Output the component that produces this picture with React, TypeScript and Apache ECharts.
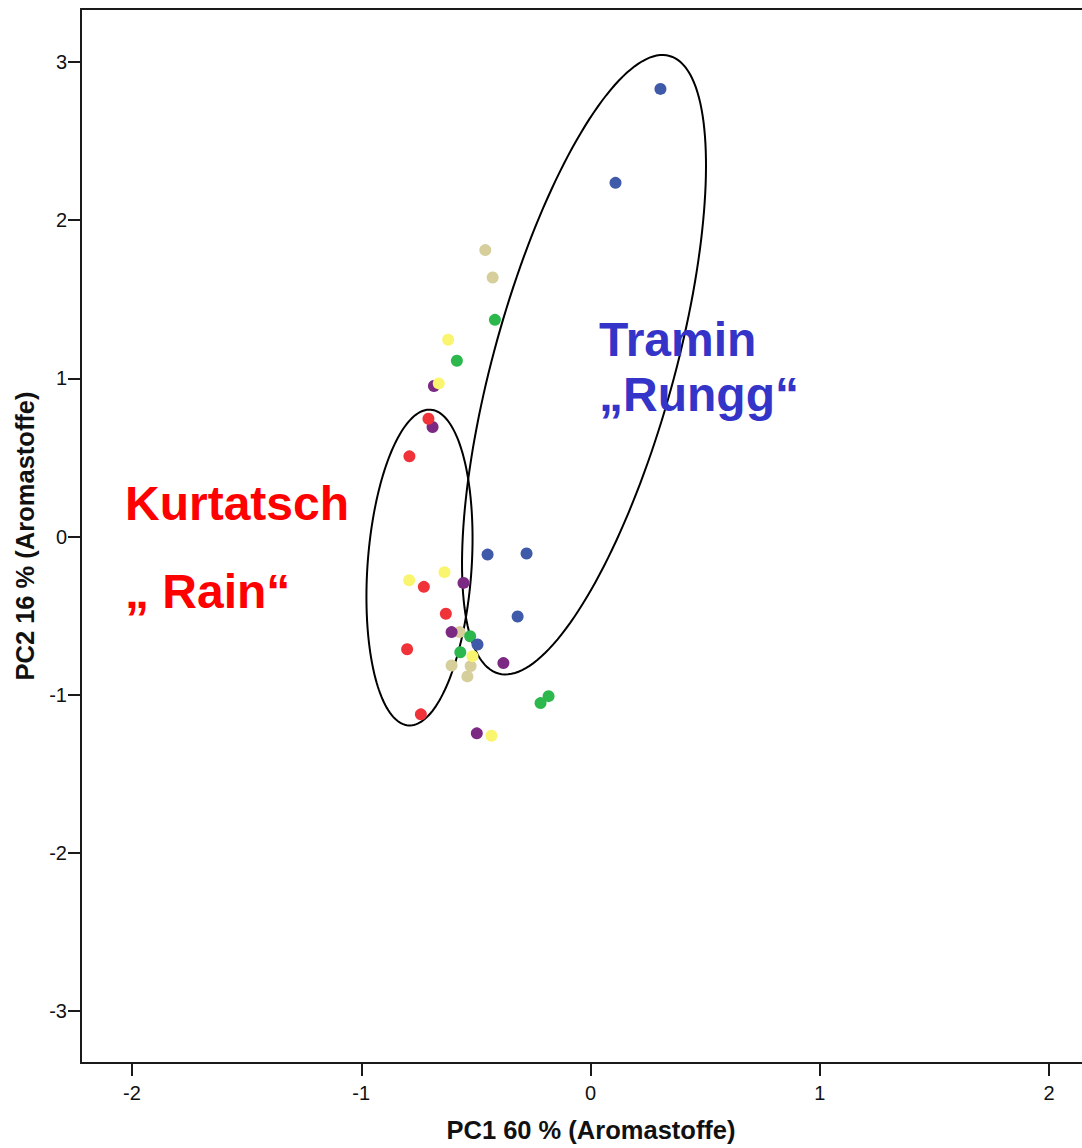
import React, { useEffect, useRef } from "react";
import * as echarts from "echarts";

const xTicks = [-2, -1, 0, 1, 2];
const yTicks = [-3, -2, -1, 0, 1, 2, 3];

const bluePoints = [[0.305, 2.83], [0.109, 2.236], [-0.449, -0.114], [-0.279, -0.107], [-0.318, -0.505], [-0.493, -0.682]];
const tanPoints = [[-0.459, 1.811], [-0.427, 1.638], [-0.571, -0.604], [-0.606, -0.815], [-0.523, -0.819], [-0.537, -0.884]];
const greenPoints = [[-0.417, 1.37], [-0.583, 1.111], [-0.525, -0.63], [-0.568, -0.731], [-0.183, -1.009], [-0.218, -1.053]];
const yellowPoints = [[-0.621, 1.244], [-0.662, 0.968], [-0.791, -0.276], [-0.637, -0.225], [-0.515, -0.756], [-0.432, -1.259]];
const purplePoints = [[-0.683, 0.952], [-0.689, 0.693], [-0.554, -0.293], [-0.606, -0.604], [-0.38, -0.8], [-0.496, -1.244]];
const redPoints = [[-0.707, 0.745], [-0.79, 0.507], [-0.727, -0.318], [-0.631, -0.488], [-0.8, -0.712], [-0.74, -1.124]];

// ellipse: centre x, centre y, half-axis u (x, y), half-axis v (x, y)
const kurtatschEllipse = [-0.746, -0.196, 0.048, 0.998, 0.2264, -0.0227];
const traminEllipse = [-0.0284, 1.0863, -0.373, -1.952, 0.3795, -0.1522];

const FONT = '"Liberation Sans", Arial, Helvetica, sans-serif';

function ellipseSeries(params: number[]) {
  return {
    type: "custom",
    z: 1,
    silent: true,
    clip: false,
    data: [params],
    renderItem: (_p: any, api: any) => {
      const cx = api.value(0), cy = api.value(1);
      const ux = api.value(2), uy = api.value(3);
      const vx = api.value(4), vy = api.value(5);
      const pts: number[][] = [];
      const n = 180;
      for (let i = 0; i < n; i++) {
        const t = (i / n) * Math.PI * 2;
        const c = Math.cos(t), s = Math.sin(t);
        pts.push(api.coord([cx + c * ux + s * vx, cy + c * uy + s * vy]));
      }
      return {
        type: "polygon",
        shape: { points: pts },
        style: { fill: "none", stroke: "#000", lineWidth: 2 },
      };
    },
  };
}

function scatter(data: number[][], color: string) {
  return {
    type: "scatter",
    z: 3,
    symbol: "circle",
    symbolSize: 12,
    data,
    itemStyle: { color, opacity: 1 },
  };
}

const X_MIN = -2.2225;
const X_MAX = 2.17;

export default function App() {
  const ref = useRef<HTMLDivElement>(null);
  useEffect(() => {
    if (!ref.current) return;
    const chart = echarts.init(ref.current, undefined, { renderer: "svg" });
    chart.setOption({
      animation: false,
      backgroundColor: "#fff",
      textStyle: { fontFamily: FONT },
      grid: {
        left: 81,
        top: 9,
        right: 112,
        bottom: 84,
        show: false,
      },
      xAxis: [
        {
          type: "value",
          min: X_MIN,
          max: X_MAX,
          name: "PC1 60 % (Aromastoffe)",
          nameLocation: "middle",
          nameGap: 54,
          nameTextStyle: { fontFamily: FONT, fontWeight: "bold", fontSize: 25.5, color: "#111", padding: [0, 0, 0, 13] },
          axisLine: { show: true, onZero: false, lineStyle: { color: "#1a1a1a", width: 2 } },
          axisTick: { show: true, length: 13, customValues: xTicks, lineStyle: { color: "#1a1a1a", width: 2 } },
          axisLabel: { customValues: xTicks, margin: 20, fontSize: 20, color: "#111", fontFamily: FONT },
          splitLine: { show: false },
        },
        {
          type: "value",
          position: "top",
          min: X_MIN,
          max: X_MAX,
          axisLine: { show: true, onZero: false, lineStyle: { color: "#1a1a1a", width: 2 } },
          axisTick: { show: false },
          axisLabel: { show: false },
          splitLine: { show: false },
        },
      ],
      yAxis: {
        type: "value",
        min: -3.328,
        max: 3.335,
        name: "PC2 16 % (Aromastoffe)",
        nameLocation: "middle",
        nameGap: 36,
        nameRotate: 90,
        nameTextStyle: { fontFamily: FONT, fontWeight: "bold", fontSize: 25.5, color: "#111" },
        axisLine: { show: true, onZero: false, lineStyle: { color: "#1a1a1a", width: 2 } },
        axisTick: { show: true, length: 13, customValues: yTicks, lineStyle: { color: "#1a1a1a", width: 2 } },
        axisLabel: { customValues: yTicks, margin: 14, fontSize: 20, color: "#111", fontFamily: FONT, padding: [8, 0, 0, 0] },
        splitLine: { show: false },
      },
      series: [
        ellipseSeries(kurtatschEllipse),
        ellipseSeries(traminEllipse),
        scatter(tanPoints, "#d6cf9b"),
        scatter(purplePoints, "#7b2983"),
        scatter(redPoints, "#ef3339"),
        scatter(greenPoints, "#2cb84c"),
        scatter(bluePoints, "#3e5aa9"),
        scatter(yellowPoints, "#f9f56e"),
      ],
      graphic: [
        { type: "text", z: 10, style: { text: "Tramin", x: 599, y: 339, font: `bold 48px ${FONT}`, fill: "#3434c8", textAlign: "left", textVerticalAlign: "middle" } },
        { type: "text", z: 10, style: { text: "\u201eRungg\u201c", x: 599, y: 394, font: `bold 48px ${FONT}`, fill: "#3434c8", textAlign: "left", textVerticalAlign: "middle" } },
        { type: "text", z: 10, style: { text: "Kurtatsch", x: 125, y: 503, font: `bold 48px ${FONT}`, fill: "#ff0000", textAlign: "left", textVerticalAlign: "middle" } },
        { type: "text", z: 10, style: { text: "\u201e Rain\u201c", x: 125, y: 591, font: `bold 48px ${FONT}`, fill: "#ff0000", textAlign: "left", textVerticalAlign: "middle" } },
      ],
    });
    return () => chart.dispose();
  }, []);
  return (
    <div style={{ position: "absolute", left: 0, top: 0, width: 1082, height: 1148, overflow: "hidden", background: "#fff" }}>
      <div ref={ref} style={{ width: 1200, height: 1148 }} />
    </div>
  );
}
